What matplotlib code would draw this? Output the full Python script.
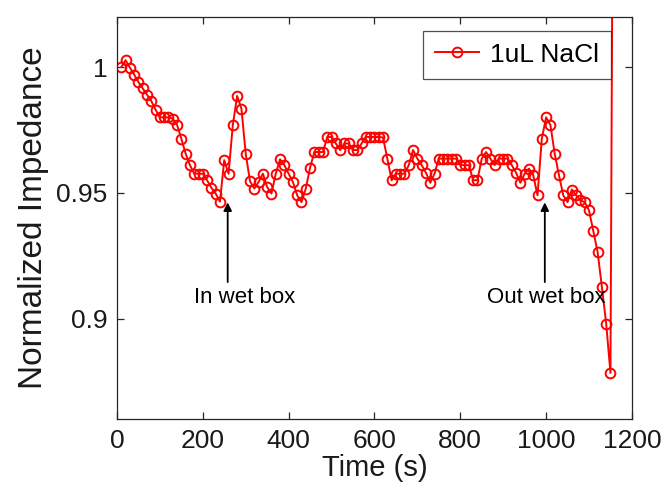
import matplotlib.pyplot as plt
from matplotlib.ticker import FixedLocator

plt.rcParams['font.family'] = ['Liberation Sans', 'DejaVu Sans']

# Time in seconds (one reading every 10 s), last point shoots off the top.
times = list(range(10, 1160, 10)) + [1160]

impedance = [
    1.000, 1.0027, 0.9998, 0.997, 0.994, 0.9915, 0.989, 0.9865, 0.983, 0.980,
    0.980, 0.980, 0.9795, 0.977, 0.9715, 0.9656, 0.961, 0.9576, 0.9576, 0.9576,
    0.955, 0.952, 0.9497, 0.9465, 0.963, 0.9576, 0.977, 0.9885, 0.9835, 0.9656,
    0.9546, 0.9517, 0.9543, 0.9576, 0.9523, 0.9497, 0.9576, 0.9633, 0.961, 0.9576,
    0.9543, 0.949, 0.9463, 0.9517, 0.960, 0.9662, 0.9662, 0.9662, 0.9722, 0.9722,
    0.9696, 0.967, 0.9696, 0.9696, 0.967, 0.967, 0.9696, 0.9722, 0.9722, 0.9722,
    0.9722, 0.972, 0.9636, 0.955, 0.9576, 0.9576, 0.9576, 0.961, 0.967, 0.9636,
    0.961, 0.958, 0.954, 0.9576, 0.9636, 0.9636, 0.9636, 0.9636, 0.9636, 0.961,
    0.961, 0.961, 0.955, 0.955, 0.9636, 0.9662, 0.9636, 0.961, 0.9636, 0.9636,
    0.9636, 0.961, 0.958, 0.954, 0.9576, 0.9596, 0.957, 0.949, 0.9715, 0.980,
    0.977, 0.9656, 0.957, 0.949, 0.9463, 0.9513, 0.949, 0.947, 0.9463, 0.943,
    0.9348, 0.9265, 0.9126, 0.898, 0.8784, 1.25,
]

x_ticks = [0, 200, 400, 600, 800, 1000, 1200]
y_ticks = [0.9, 0.95, 1.0]
y_tick_labels = ['0.9', '0.95', '1']

fig = plt.figure(figsize=(6.68, 4.92), dpi=100)
ax = fig.add_axes([0.1751, 0.1478, 0.7709, 0.8183])

ax.plot(times, impedance, color='red', linewidth=1.4, marker='o',
        markersize=7, markerfacecolor='none', markeredgewidth=1.4,
        label='1uL NaCl')

ax.set_xlim(0, 1200)
ax.set_ylim(0.86, 1.02)
ax.xaxis.set_major_locator(FixedLocator(x_ticks))
ax.set_yticks(y_ticks)
ax.set_yticklabels(y_tick_labels)

for side in ax.spines.values():
    side.set_color('#262626')
    side.set_linewidth(0.9)
ax.tick_params(direction='in', length=5, width=0.9, color='#262626',
               top=True, right=True, labelsize=19, labelcolor='#1a1a1a',
               pad=7)

ax.set_xlabel('Time (s)', fontsize=21, color='#1a1a1a', labelpad=1)
ax.set_ylabel('Normalized Impedance', fontsize=24, color='#1a1a1a',
              labelpad=5)

# Arrows marking when the sample went in / out of the wet box.
arrow_style = dict(arrowstyle='-|>', color='black', lw=1.3,
                   mutation_scale=12, shrinkA=0, shrinkB=0)
ax.annotate('', xy=(258, 0.9462), xytext=(258, 0.9145),
            arrowprops=arrow_style)
ax.text(297, 0.9085, 'In wet box', ha='center', va='center', fontsize=16)
ax.annotate('', xy=(997, 0.9462), xytext=(997, 0.9145),
            arrowprops=arrow_style)
ax.text(1000, 0.9085, 'Out wet box', ha='center', va='center', fontsize=16)

leg = ax.legend(loc='upper right', fontsize=19, frameon=True, fancybox=False,
                edgecolor='#262626', handlelength=1.7, handletextpad=0.4,
                borderpad=0.45, borderaxespad=0,
                bbox_to_anchor=(0.959, 0.965))
leg.get_frame().set_linewidth(0.9)

fig.savefig('out.png', dpi=100)
